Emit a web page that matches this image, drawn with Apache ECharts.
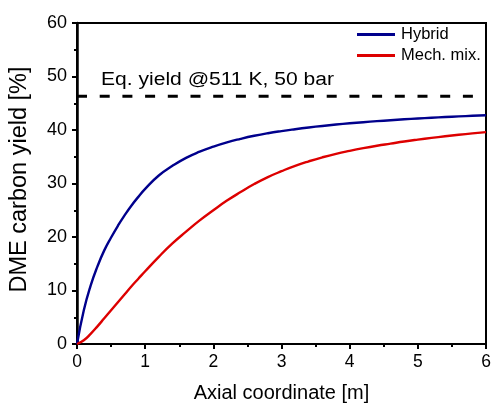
<!DOCTYPE html>
<html>
<head>
<meta charset="utf-8">
<script src="https://cdn.jsdelivr.net/npm/echarts@6/dist/echarts.min.js"></script>
<style>
  html, body { margin: 0; padding: 0; background: #fff; }
  #chart { width: 491px; height: 403px; }
</style>
</head>
<body>
<div id="chart"></div>
<script>
// Axial positions along the reactor [m]
const axialPos = [0, 0.1, 0.2, 0.3, 0.4, 0.5, 0.6, 0.7, 0.8, 0.9, 1.0,
  1.2, 1.4, 1.6, 1.8, 2.0, 2.2, 2.4, 2.6, 2.8, 3.0,
  3.2, 3.4, 3.6, 3.8, 4.0, 4.2, 4.4, 4.6, 4.8, 5.0,
  5.2, 5.4, 5.6, 5.8, 6.0];
// DME carbon yield [%] for the hybrid catalyst bed
const hybridYield = [0, 6.3, 10.9, 14.5, 17.5, 19.9, 22.1, 24.1, 25.9, 27.5, 29.0,
  31.5, 33.3, 34.8, 35.95, 36.9, 37.7, 38.35, 38.92, 39.4, 39.8,
  40.15, 40.47, 40.76, 41.02, 41.25, 41.46, 41.65, 41.83, 42.0, 42.15,
  42.29, 42.42, 42.54, 42.65, 42.75];
// DME carbon yield [%] for the mechanical mixture
const mechMixYield = [0, 0.7, 1.9, 3.3, 4.8, 6.3, 7.8, 9.3, 10.8, 12.2, 13.6,
  16.3, 18.8, 21.0, 23.1, 25.0, 26.8, 28.4, 29.9, 31.2, 32.3,
  33.3, 34.15, 34.9, 35.55, 36.1, 36.6, 37.05, 37.45, 37.85, 38.2,
  38.52, 38.82, 39.1, 39.36, 39.6];
// Equilibrium yield at 511 K, 50 bar
const eqYield = 46.3;
const eqLabel = 'Eq. yield @511 K, 50 bar';
const seriesNames = ['Hybrid', 'Mech. mix.'];
const xTitle = 'Axial coordinate [m]';
const yTitle = 'DME carbon yield [%]';

const FONT = 'Liberation Sans, Arial, sans-serif';
const pair = (xs, ys) => xs.map((x, i) => [x, ys[i]]);

const chart = echarts.init(document.getElementById('chart'), null, { renderer: 'canvas' });

chart.setOption({
  animation: false,
  backgroundColor: '#fff',
  grid: {
    left: 77, right: 5, top: 23, bottom: 59,
    outerBoundsMode: 'none', containLabel: false,
    show: true, borderColor: '#000', borderWidth: 2, backgroundColor: 'transparent'
  },
  legend: {
    data: seriesNames,
    orient: 'vertical',
    left: 352, top: 21,
    itemWidth: 38, itemHeight: 3, itemGap: 4,
    icon: 'rect',
    textStyle: { fontFamily: FONT, fontSize: 16.5, color: '#000', padding: [0, 0, 0, 1] }
  },
  xAxis: {
    type: 'value', min: 0, max: 6, interval: 1,
    name: xTitle, nameLocation: 'middle', nameGap: 39,
    nameTextStyle: { fontFamily: FONT, fontSize: 20, color: '#000' },
    axisLine: { lineStyle: { color: '#000', width: 2 } },
    axisTick: { inside: false, length: 5, lineStyle: { color: '#000', width: 2 } },
    minorTick: { show: true, splitNumber: 2, length: 3, lineStyle: { color: '#000', width: 2 } },
    axisLabel: { fontFamily: FONT, fontSize: 17.5, color: '#000', margin: 9 },
    splitLine: { show: false }
  },
  yAxis: {
    type: 'value', min: 0, max: 60, interval: 10,
    name: yTitle, nameLocation: 'middle', nameGap: 45, nameRotate: 90,
    nameTextStyle: { fontFamily: FONT, fontSize: 23.5, color: '#000', padding: [0, 0, 0, 8] },
    axisLine: { show: true, lineStyle: { color: '#000', width: 2.5 } },
    axisTick: { inside: false, length: 5, lineStyle: { color: '#000', width: 2 } },
    minorTick: { show: true, splitNumber: 2, length: 3, lineStyle: { color: '#000', width: 2 } },
    axisLabel: { fontFamily: FONT, fontSize: 18, color: '#000', margin: 10 },
    splitLine: { show: false }
  },
  series: [
    {
      name: seriesNames[0], type: 'line', data: pair(axialPos, hybridYield),
      smooth: true, showSymbol: false, symbol: 'none',
      lineStyle: { color: '#00008c', width: 2.4 }, itemStyle: { color: '#00008c' }, z: 3
    },
    {
      name: seriesNames[1], type: 'line', data: pair(axialPos, mechMixYield),
      smooth: true, showSymbol: false, symbol: 'none',
      lineStyle: { color: '#dd0000', width: 2.4 }, itemStyle: { color: '#dd0000' }, z: 3
    },
    {
      name: 'eq', type: 'line', data: [[0, eqYield], [6, eqYield]],
      showSymbol: false, symbol: 'none',
      lineStyle: { color: '#000', width: 3, type: [10, 12.7] }, z: 2
    }
  ],
  graphic: [
    {
      // equilibrium annotation, set slightly wide
      type: 'text', x: 101, y: 71, scaleX: 1.17,
      style: { text: eqLabel, font: '18px ' + FONT, fill: '#000', verticalAlign: 'top', align: 'left' }
    }
  ]
});
</script>
</body>
</html>
